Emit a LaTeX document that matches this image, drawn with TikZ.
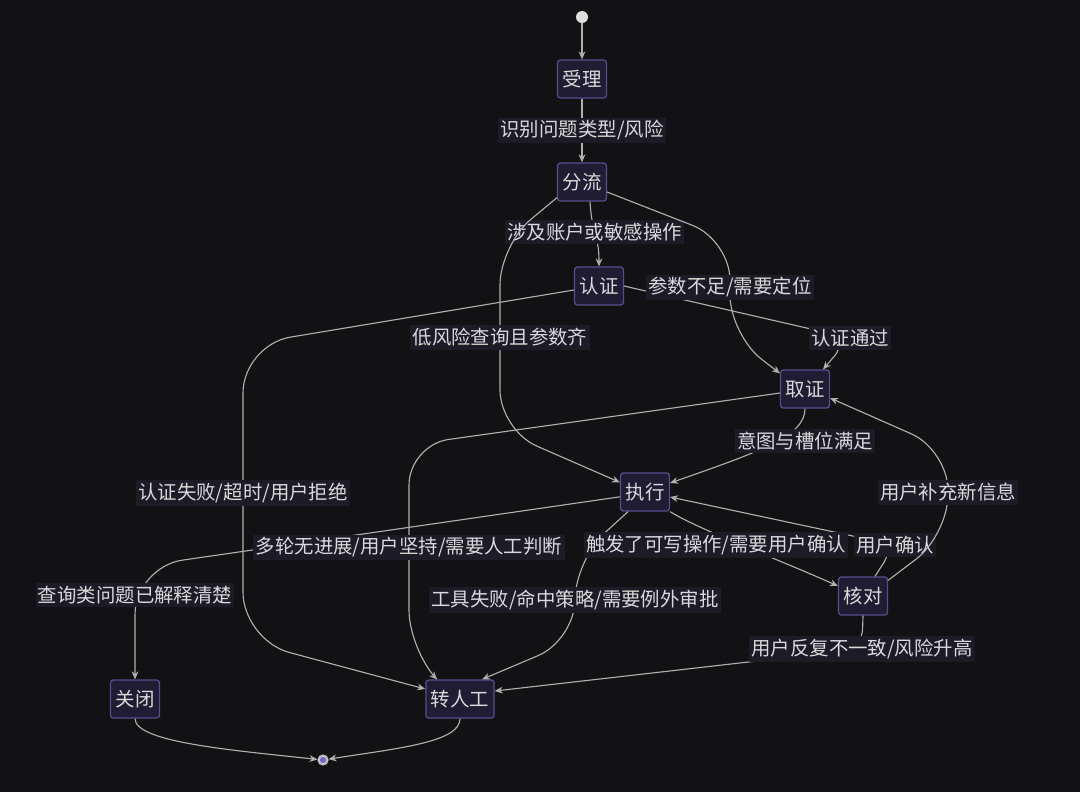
\documentclass[tikz,border=0pt]{standalone}
\usepackage{fontspec}
\usepackage{xcolor}
\usepackage{tikz}
\usetikzlibrary{arrows.meta}
\newfontfamily\cjkfont{Noto Sans CJK SC}
\definecolor{canvasbg}{HTML}{121214}
\definecolor{statefill}{HTML}{1F1C33}
\definecolor{stateborder}{HTML}{5C4C8E}
\definecolor{textgray}{HTML}{DADADA}
\definecolor{lblbg}{HTML}{1C1B26}
\definecolor{linegray}{HTML}{B0B0B0}
\definecolor{endpurple}{HTML}{7E5FD6}

\begin{document}
\begin{tikzpicture}[x=0.025cm, y=-0.025cm,
  state/.style={draw=stateborder, fill=statefill, rounded corners=2pt, line width=0.9pt,
                text=textgray, font=\cjkfont\fontsize{13.8pt}{16pt}\selectfont,
                minimum height=0.95cm, inner xsep=0.125cm, inner ysep=0pt},
  lbl/.style={fill=lblbg, sharp corners, text=textgray, font=\cjkfont\fontsize{13.8pt}{16pt}\selectfont,
              inner xsep=0.06cm, inner ysep=0.075cm},
  arr/.style={-{Stealth[length=0.2cm,width=0.17cm]}, draw=linegray, line width=0.8pt},
  initstate/.style={circle, fill=textgray!90, inner sep=0pt, minimum size=0.3cm},
  finalstate/.style={circle, fill=endpurple, draw=linegray!80, line width=1.6pt,
                     inner sep=0pt, minimum size=0.22cm}]
\path[use as bounding box, fill=canvasbg] (0,0) rectangle (1080,792);

\node[initstate] (init) at (582,17) {};
\node[state] (shouli) at (582,79) {受理};
\node[state] (fenliu) at (582,182) {分流};
\node[state] (renzheng) at (599,286) {认证};
\node[state] (quzheng) at (805,389) {取证};
\node[state] (zhixing) at (645,492) {执行};
\node[state] (hedui) at (863,596) {核对};
\node[state] (guanbi) at (135,699) {关闭};
\node[state] (zhuanrg) at (460,699) {转人工};
\node[finalstate] (fin) at (323,760) {};

\draw[arr] (init) -- (shouli);
\draw[arr] (shouli) -- node[lbl]{识别问题类型/风险} (fenliu);
\draw[arr] ([xshift=0.2cm]fenliu.south) .. controls (592,235) and (599,235) ..
  node[lbl, pos=0.45]{涉及账户或敏感操作} (renzheng.north);
\draw[arr, rounded corners=0.6cm] (renzheng.east) -- (850,338) node[lbl]{认证通过}
  -- ([xshift=0.45cm]quzheng.north);
\draw[arr, rounded corners=1cm] ([yshift=-0.25cm]fenliu.east) -- (730,240)
  -- node[lbl]{参数不足/需要定位} (730,335) -- ([yshift=-0.1cm]quzheng.north west);
\draw[arr, rounded corners=1cm] ([yshift=0.1cm]fenliu.south west) -- (500,245)
  -- node[lbl]{低风险查询且参数齐} (500,430) -- ([yshift=-0.25cm]zhixing.north west);
\draw[arr, rounded corners=1.2cm] ([yshift=-0.1cm]renzheng.west) -- (243,345)
  -- node[lbl]{认证失败/超时/用户拒绝} (243,640) -- ([yshift=0.25cm]zhuanrg.west);
\draw[arr] (quzheng.south) .. controls (805,435) and (765,450) ..
  ([yshift=0.225cm]zhixing.east) node[lbl] at (805,441) {意图与槽位满足};
\draw[arr, rounded corners=1.2cm] ([yshift=-0.12cm]zhixing.west) -- (135,567)
  -- node[lbl, pos=0.25]{查询类问题已解释清楚} (guanbi.north);
\draw[arr, rounded corners=1cm] ([yshift=-0.1cm]quzheng.west) -- (409,445)
  -- node[lbl]{多轮无进展/用户坚持/需要人工判断} (409,650) -- ([xshift=-0.575cm]zhuanrg.north);
\draw[arr, rounded corners=1cm] ([xshift=0.2cm]zhixing.south west) -- (575,560)
  -- node[lbl]{工具失败/命中策略/需要例外审批} (575,640) -- ([xshift=0.55cm]zhuanrg.north);
\draw[arr, rounded corners=0.5cm] ([xshift=0.3cm]hedui.north) -- (895,545) node[lbl]{用户确认}
  -- ([yshift=-0.125cm]zhixing.east);
\draw[arr] (zhixing.south east) .. controls (700,530) and (780,560) ..
  ([yshift=0.25cm]hedui.west) node[lbl] at (716,545) {触发了可写操作/需要用户确认};
\draw[arr, rounded corners=1cm] ([yshift=-0.1cm]hedui.north east) -- (948,535)
  -- node[lbl]{用户补充新信息} (948,450) -- ([yshift=-0.225cm]quzheng.east);
\draw[arr, rounded corners=0.5cm] (hedui.south) -- (862,649) node[lbl]{用户反复不一致/风险升高}
  -- ([yshift=0.2cm]zhuanrg.east);
\draw[arr] (guanbi.south) .. controls (135,742) and (230,750) .. (fin);
\draw[arr] (zhuanrg.south) .. controls (460,742) and (400,748) .. (fin);
\end{tikzpicture}
\end{document}
